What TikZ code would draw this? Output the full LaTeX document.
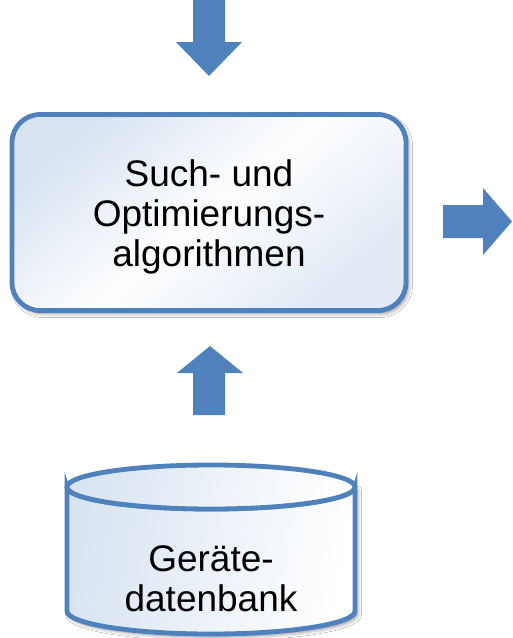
\documentclass[tikz,border=0pt]{standalone}
\usepackage{fontspec}
\setmainfont{Liberation Sans}
\usetikzlibrary{shadows.blur}

\definecolor{blockblue}{RGB}{79,129,189}
\definecolor{paleblue}{RGB}{216,228,241}

\tikzset{
  blockarrow/.style={fill=blockblue, draw=none},
  softshadow/.style={blur shadow={shadow xshift=2.5pt, shadow yshift=-3pt,
      shadow blur radius=4pt, shadow opacity=45}},
  procbox/.style={draw=blockblue, line width=4.8pt, rounded corners=28pt,
      minimum width=394pt, minimum height=196pt, align=center,
      top color=paleblue, bottom color=paleblue!80!white, middle color=white!96!paleblue,
      shading angle=40, softshadow},
  label/.style={align=center, inner sep=0pt,
      font=\fontsize{37}{40}\selectfont},
  dbbody/.style={draw=blockblue, line width=4.8pt,
      left color=paleblue, right color=white, shading angle=80},
}

\begin{document}
\begin{tikzpicture}[x=1pt, y=-1pt]
  \useasboundingbox[fill=white] (0,0) rectangle (513,638);

  % processing block
  \node[procbox] (algo) at (209,212.5) {};
  \node[label] (algotext) at (209,217) {Such- und\\Optimierungs-\\algorithmen};

  % arrow coming in from above
  \coordinate (intop) at (209,0);
  \fill[blockarrow] (intop) ++(-16,0) -- ++(0,42) -- ++(-17,0)
    -- (209,76) -- (242,42) -- (225,42) -- (225,0) -- cycle;

  % arrow leaving to the right
  \coordinate (outright) at (443,221.5);
  \fill[blockarrow] (outright) ++(0,-16.5) -- (483,205) -- (483,188)
    -- (512,221.5) -- (483,255) -- (483,238) -- (443,238) -- cycle;

  % arrow from the database up to the block
  \coordinate (inbottom) at (209,415);
  \fill[blockarrow] (inbottom) ++(-16,0) -- (193,373) -- (177,373)
    -- (210,346) -- (243,373) -- (225,373) -- (225,415) -- cycle;

  % database cylinder
  \coordinate (dbtop) at (211,487);
  \path[softshadow, dbbody] (67,487) -- (67,611)
    .. controls (67,623.7) and (131.5,634) .. (211,634)
    .. controls (290.5,634) and (355,623.7) .. (355,611)
    -- (355,487)
    .. controls (355,499.2) and (290.5,509) .. (211,509)
    .. controls (131.5,509) and (67,499.2) .. (67,487) -- cycle;
  \draw[dbbody] (dbtop) ellipse [x radius=144pt, y radius=22pt];
  \node[label] (db) at (211,579) {Geräte-\\datenbank};
\end{tikzpicture}
\end{document}
